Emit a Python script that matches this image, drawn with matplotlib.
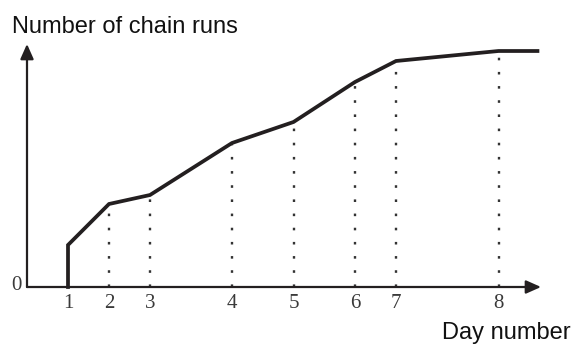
import matplotlib
matplotlib.use("Agg")
import matplotlib.pyplot as plt
import matplotlib.transforms as mtransforms

# day labels, their place along the time axis, and runs reached on that day
day_labels = ["1", "2", "3", "4", "5", "6", "7", "8"]
day_pos = [1, 2, 3, 5, 6.5, 8, 9, 11.5]
runs = [42, 83, 92, 144, 165, 205, 226, 236]
start_runs = 0
end_pos = 12.45

ink = "#231f20"

fig = plt.figure(figsize=(5.75, 3.44), dpi=100)
W, H = 575, 344
ax = fig.add_axes([27 / W, 57 / H, 514 / W, 243 / H])
ax.set_xlim(0, 514 / 41)
ax.set_ylim(0, 243)
for s in ax.spines.values():
    s.set_visible(False)

# axes drawn as arrows
arr = dict(arrowstyle="-|>,head_length=0.45,head_width=0.2", color=ink,
           lw=1.6, shrinkA=0, shrinkB=0, mutation_scale=20)
ax.annotate("", xy=(1, 0), xytext=(0, 0), xycoords="axes fraction",
            textcoords="axes fraction", arrowprops=arr, annotation_clip=False)
ax.annotate("", xy=(0, 1), xytext=(0, 0), xycoords="axes fraction",
            textcoords="axes fraction", arrowprops=arr, annotation_clip=False)

# dotted drop lines
for x, y in zip(day_pos[1:], runs[1:]):
    ax.plot([x, x], [0, y], color="#333333", lw=1.7,
            linestyle=(0, (1.1, 4.9)), solid_capstyle="butt")

# main curve
xs = [day_pos[0]] + day_pos + [end_pos]
ys = [start_runs] + runs + [runs[-1]]
ax.plot(xs, ys, color=ink, lw=2.7, solid_joinstyle="miter", clip_on=False)

ax.set_xticks(day_pos)
ax.set_xticklabels(day_labels, family="Liberation Serif", fontsize=15, color="#3a3a3a")
ax.set_yticks([0])
ax.set_yticklabels(["0"], family="Liberation Serif", fontsize=15, color="#3a3a3a")
ax.tick_params(length=0)
ax.tick_params(axis="x", pad=5)
ax.tick_params(axis="y", pad=4)
off = mtransforms.ScaledTranslation(0, 4 / 100, fig.dpi_scale_trans)
for lab in ax.get_yticklabels():
    lab.set_transform(lab.get_transform() + off)

# the day numbers are cut off at the bottom in the original picture
cut = mtransforms.Bbox.from_extents(0, 33, W, H)
for lab in ax.get_xticklabels():
    lab.set_clip_box(mtransforms.TransformedBbox(cut, mtransforms.IdentityTransform()))
    lab.set_clip_on(True)

fig.text(12 / W, 1 - 33 / H, "Number of chain runs", family="Liberation Sans",
         fontsize=17, va="baseline", ha="left", color="#111111")
fig.text(571 / W, 1 - 339 / H, "Day number", family="Liberation Sans",
         fontsize=17, va="baseline", ha="right", color="#111111")

fig.savefig("out.png", dpi=100)
